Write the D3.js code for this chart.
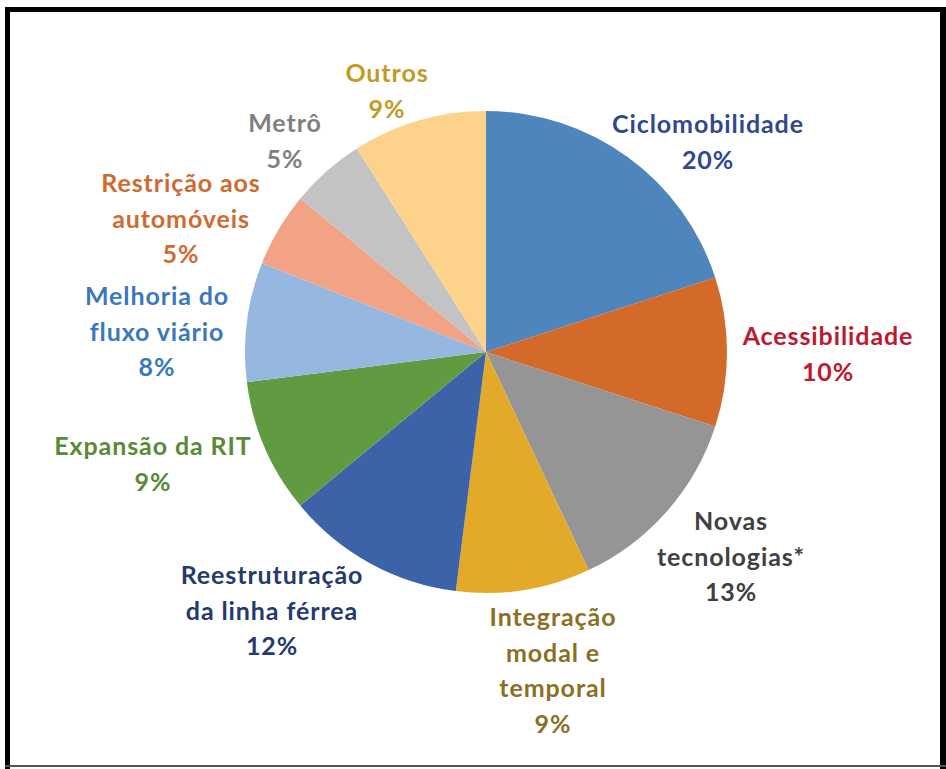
<!DOCTYPE html>
<html>
<head>
<meta charset="utf-8">
<script src="https://cdn.jsdelivr.net/npm/d3@7"></script>
<style>
  body { margin: 0; background: #fff; }
  svg { display: block; }
  .lbl { font-family: Lato, "Open Sans", sans-serif; font-weight: bold; letter-spacing: 0.9px; }
</style>
</head>
<body>
<svg id="chart"></svg>
<script>
// Categories, clockwise from 12 o'clock
const categories = [
    ["Ciclomobilidade"],
    ["Acessibilidade"],
    ["Novas", "tecnologias*"],
    ["Integração", "modal e", "temporal"],
    ["Reestruturação", "da linha férrea"],
    ["Expansão da RIT"],
    ["Melhoria do", "fluxo viário"],
    ["Restrição aos", "automóveis"],
    ["Metrô"],
    ["Outros"]
];
const values = [20, 10, 13, 9, 12, 9, 8, 5, 5, 9];
const percentLabels = ["20%", "10%", "13%", "9%", "12%", "9%", "8%", "5%", "5%", "9%"];

// slice fill and label colours
const fills = ["#4E85BD", "#D46A2A", "#959595", "#E2AA28", "#3C62A8",
               "#619B41", "#95B7E0", "#F2A285", "#C3C3C3", "#FDD28A"];
const textColors = ["#2F4890", "#C0172E", "#404040", "#8B7024", "#243A6E",
                    "#5A8A35", "#3A78BE", "#CF6A30", "#7F7F7F", "#C29A26"];

// label block anchor (centre x, first baseline y), placed like the original
const labelPos = [[708, 133], [828, 345], [731, 530], [553, 626], [272, 584],
                  [153, 455], [157, 305], [181, 192], [285, 132], [387, 82]];

const width = 946, height = 769;
const cx = 486, cy = 352, radius = 241;
const lineGap = 35.5;

const svg = d3.select('#chart')
    .attr("width", width)
    .attr("height", height);

svg.append("rect").attr("width", width).attr("height", height).attr("fill", "#fff");

// frame
svg.append("rect").attr("x", 5).attr("y", 7).attr("width", 941).attr("height", 5).attr("fill", "#000");
svg.append("rect").attr("x", 5).attr("y", 7).attr("width", 5).attr("height", 762).attr("fill", "#000");
svg.append("rect").attr("x", 940).attr("y", 7).attr("width", 6).attr("height", 762).attr("fill", "#000");
svg.append("rect").attr("x", 5).attr("y", 765).attr("width", 941).attr("height", 2).attr("fill", "#555");

const pie = d3.pie().sort(null).value(d => d);
const arc = d3.arc().innerRadius(0).outerRadius(radius);

const g = svg.append("g").attr("transform", `translate(${cx}, ${cy})`);

g.selectAll("path")
    .data(pie(values))
    .join("path")
    .attr("d", arc)
    .attr("fill", (d, i) => fills[i]);

// labels
const labels = svg.append("g");
categories.forEach((lines, i) => {
    const all = lines.concat([percentLabels[i]]);
    const t = labels.append("text")
        .attr("class", "lbl")
        .attr("text-anchor", "middle")
        .attr("font-size", 25)
        .attr("fill", textColors[i]);
    all.forEach((s, j) => {
        t.append("tspan")
            .attr("x", labelPos[i][0])
            .attr("y", labelPos[i][1] + j * lineGap)
            .text(s);
    });
});
</script>
</body>
</html>
